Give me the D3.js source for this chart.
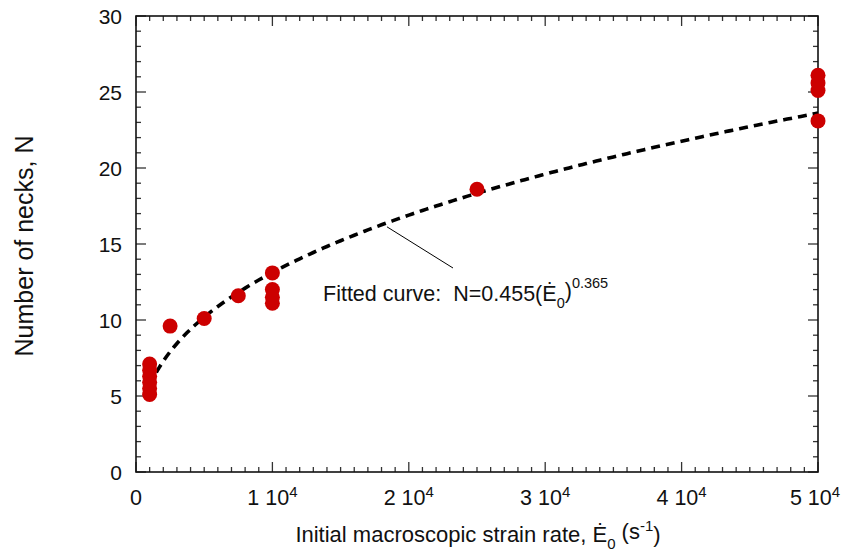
<!DOCTYPE html>
<html>
<head>
<meta charset="utf-8">
<script src="https://cdn.jsdelivr.net/npm/d3@7"></script>
<style>
  body { margin: 0; background: #fff; }
  text { font-family: "Liberation Sans", Arial, sans-serif; fill: #111; white-space: pre; }
</style>
</head>
<body>
<div class="chart"></div>
<script>
// measured points (strain rate in 1/s, number of necks)
var rates  = [1000, 1000, 1000, 1000, 1000, 1000, 2500, 5000, 7500,
              10000, 10000, 10000, 10000, 25000, 50000, 50000, 50000, 50000];
var necks  = [5.1, 5.5, 5.9, 6.3, 6.7, 7.1, 9.6, 10.1, 11.6,
              11.1, 11.5, 12.0, 13.1, 18.6, 23.1, 25.1, 25.6, 26.1];

// fitted power law N = a * E^b
var fitA = 0.455, fitB = 0.365;
var fitRates = d3.range(1000, 50001, 250);

var xTicks = [0, 10000, 20000, 30000, 40000, 50000];
var yTicks = [0, 5, 10, 15, 20, 25, 30];

var W = 844, H = 554;
var margin = { top: 16, right: 26, bottom: 82, left: 136 };
var width = W - margin.left - margin.right;
var height = H - margin.top - margin.bottom;

var svg = d3.select("div.chart").append("svg")
    .attr("width", W)
    .attr("height", H)
    .append("g")
    .attr("transform", "translate(" + margin.left + "," + margin.top + ")");

var x = d3.scaleLinear().domain([0, 50000]).range([0, width]);
var y = d3.scaleLinear().domain([0, 30]).range([height, 0]);

// inward ticks on all four sides, minor every 1000 / every 1
var xMinor = d3.range(0, 50001, 1000);
var yMinor = d3.range(0, 31, 1);
var tickCol = "#333";

function isMajorX(v) { return v % 10000 === 0; }
function isMajorY(v) { return v % 5 === 0; }

var ticks = svg.append("g").attr("class", "ticks")
    .attr("stroke", tickCol).attr("stroke-width", 1.3);

xMinor.forEach(function(v) {
    var len = isMajorX(v) ? 10 : 5;
    ticks.append("line").attr("x1", x(v)).attr("x2", x(v))
        .attr("y1", height).attr("y2", height - len);
    ticks.append("line").attr("x1", x(v)).attr("x2", x(v))
        .attr("y1", 0).attr("y2", len);
});
yMinor.forEach(function(v) {
    var len = isMajorY(v) ? 10 : 5;
    ticks.append("line").attr("y1", y(v)).attr("y2", y(v))
        .attr("x1", 0).attr("x2", len);
    ticks.append("line").attr("y1", y(v)).attr("y2", y(v))
        .attr("x1", width).attr("x2", width - len);
});

svg.append("rect")
    .attr("x", 0).attr("y", 0)
    .attr("width", width).attr("height", height)
    .attr("fill", "none")
    .attr("stroke", "#111")
    .attr("stroke-width", 1.6);

// y tick labels
svg.append("g").selectAll("text")
    .data(yTicks)
    .enter().append("text")
    .attr("x", -14)
    .attr("y", function(d) { return y(d); })
    .attr("dy", "0.36em")
    .attr("text-anchor", "end")
    .style("font-size", "21px")
    .text(function(d) { return d; });

// x tick labels: "n 10^4"
var xl = svg.append("g").selectAll("text")
    .data(xTicks)
    .enter().append("text")
    .attr("x", function(d) { return x(d) + (d === 50000 ? -3 : 0); })
    .attr("y", height + 33)
    .attr("text-anchor", "middle")
    .style("font-size", "21.5px");
xl.each(function(d) {
    var t = d3.select(this);
    if (d === 0) { t.text("0"); return; }
    t.append("tspan").text((d / 10000) + " 10");
    t.append("tspan").attr("dy", "-0.55em").style("font-size", "15px").text("4");
});

// axis titles
var xt = svg.append("text")
    .attr("x", width / 2 + 1)
    .attr("y", height + 70)
    .attr("text-anchor", "middle")
    .style("font-size", "22px");
xt.append("tspan").text("Initial macroscopic strain rate, \u0116");
xt.append("tspan").attr("dy", "0.45em").style("font-size", "15px").text("0");
xt.append("tspan").attr("dy", "-0.45em").text(" (s");
xt.append("tspan").attr("dy", "-0.5em").style("font-size", "15px").text("-1");
xt.append("tspan").attr("dy", "0.5em").text(")");

svg.append("text")
    .attr("transform", "rotate(-90)")
    .attr("x", -height / 2 - 2)
    .attr("y", -103)
    .attr("text-anchor", "middle")
    .style("font-size", "25px")
    .text("Number of necks, N");

// fitted curve
var line = d3.line()
    .x(function(d) { return x(d); })
    .y(function(d) { return y(fitA * Math.pow(d, fitB)); });

svg.append("path")
    .datum(fitRates)
    .attr("d", line)
    .attr("fill", "none")
    .attr("stroke", "#000")
    .attr("stroke-width", 3.6)
    .attr("stroke-dasharray", "9,6");

// points
svg.append("g").selectAll("circle")
    .data(rates)
    .enter().append("circle")
    .attr("cx", function(d) { return x(d); })
    .attr("cy", function(d, i) { return y(necks[i]); })
    .attr("r", 7.5)
    .style("fill", "#cc0000");

// annotation
var annoRate = 18400;
var ax0 = x(annoRate), ay0 = y(fitA * Math.pow(annoRate, fitB)) + 4;
svg.append("line")
    .attr("x1", ax0).attr("y1", ay0)
    .attr("x2", 317).attr("y2", 252)
    .attr("stroke", "#000").attr("stroke-width", 1);

var an = svg.append("text")
    .attr("x", 187)
    .attr("y", 285)
    .style("font-size", "21.5px");
an.append("tspan").text("Fitted curve:  N=0.455(\u0116");
an.append("tspan").attr("dy", "0.45em").style("font-size", "14.5px").text("0");
an.append("tspan").attr("dy", "-0.45em").text(")");
an.append("tspan").attr("dy", "-0.65em").style("font-size", "14.5px").text("0.365");
</script>
</body>
</html>
